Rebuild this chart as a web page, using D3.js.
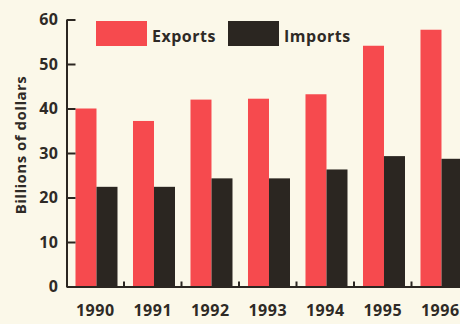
<!DOCTYPE html>
<html>
<head>
<meta charset="utf-8">
<script src="https://cdn.jsdelivr.net/npm/d3@7"></script>
<style>
  body { margin: 0; background: #fbf8e9; }
  svg { display: block; }
  text { font-family: "Open Sans", sans-serif; font-weight: 700; fill: #2e2a26; letter-spacing: 0.5px; }
</style>
</head>
<body>
<div id="chart"></div>
<script>
// values (billions of dollars)
var years = ["1990", "1991", "1992", "1993", "1994", "1995", "1996"];
var exportsData = [40, 37.2, 42, 42.2, 43.2, 54.1, 57.7];
var importsData = [22.4, 22.4, 24.3, 24.3, 26.3, 29.3, 28.7];
var yTicks = [0, 10, 20, 30, 40, 50, 60];
var seriesNames = ["Exports", "Imports"];

var width = 460, height = 324;
var red = "#f64a4e", dark = "#2b2621";

var svg = d3.select("#chart").append("svg")
    .attr("width", width)
    .attr("height", height);

svg.append("rect")
    .attr("width", width)
    .attr("height", height)
    .attr("fill", "#fbf8e9");

var x = d3.scaleBand()
    .domain(years)
    .range([66.5, 66.5 + 57.5 * years.length]);

var xInner = d3.scaleBand()
    .domain(seriesNames)
    .range([0, x.bandwidth()])
    .paddingOuter(0.369)
    .align(0.58);

var y = d3.scaleLinear()
    .domain([0, 60])
    .range([286.5, 19.5]);

var rows = years.map(function(yr, i){
    return {year: yr, values: [exportsData[i], importsData[i]]};
});

var groups = svg.selectAll(".group")
    .data(rows)
    .enter().append("g")
    .attr("class", "group")
    .attr("transform", function(d){ return "translate(" + x(d.year) + ",0)"; });

groups.selectAll("rect")
    .data(function(d){ return d.values.map(function(v, j){ return {name: seriesNames[j], value: v}; }); })
    .enter().append("rect")
    .attr("x", function(d){ return xInner(d.name); })
    .attr("width", xInner.bandwidth())
    .attr("y", function(d){ return y(d.value); })
    .attr("height", function(d){ return y(0) - y(d.value); })
    .attr("fill", function(d){ return d.name == "Exports" ? red : dark; });

// y axis, ticks point inward
var yAxis = svg.append("g")
    .attr("transform", "translate(66.5,0)")
    .call(d3.axisLeft(y).tickValues(yTicks).tickSize(-9).tickPadding(8).tickSizeOuter(0));
yAxis.select(".domain").attr("stroke", dark).attr("stroke-width", 2);
yAxis.selectAll(".tick line").attr("stroke", dark).attr("stroke-width", 2);
yAxis.selectAll(".tick text")
    .attr("font-size", 16)
    .attr("font-family", "Open Sans, sans-serif")
    .attr("font-weight", 700)
    .attr("fill", "#2e2a26");

// x axis: baseline with small upward ticks between the year groups
var xAxis = svg.append("g")
    .attr("transform", "translate(0," + y(0) + ")")
    .call(d3.axisBottom(x).tickSize(0).tickPadding(18).tickSizeOuter(0));
xAxis.select(".domain").attr("stroke", dark).attr("stroke-width", 2);
xAxis.selectAll(".tick text")
    .attr("font-size", 16)
    .attr("font-family", "Open Sans, sans-serif")
    .attr("font-weight", 700)
    .attr("fill", "#2e2a26");

xAxis.selectAll(".sep")
    .data(years.slice(1))
    .enter().append("line")
    .attr("class", "sep")
    .attr("x1", function(d){ return x(d); })
    .attr("x2", function(d){ return x(d); })
    .attr("y1", 0)
    .attr("y2", -5)
    .attr("stroke", dark)
    .attr("stroke-width", 2);

svg.append("text")
    .attr("transform", "translate(26,145) rotate(-90)")
    .attr("text-anchor", "middle")
    .attr("font-size", 15)
    .text("Billions of dollars");

// legend
var legend = svg.append("g");
var legendX = [96, 228];
seriesNames.forEach(function(name, i){
    legend.append("rect")
        .attr("x", legendX[i])
        .attr("y", 21)
        .attr("width", 51)
        .attr("height", 25)
        .attr("fill", i == 0 ? red : dark);
    legend.append("text")
        .attr("x", legendX[i] + 56)
        .attr("y", 42)
        .attr("font-size", 16)
        .text(name);
});
</script>
</body>
</html>
